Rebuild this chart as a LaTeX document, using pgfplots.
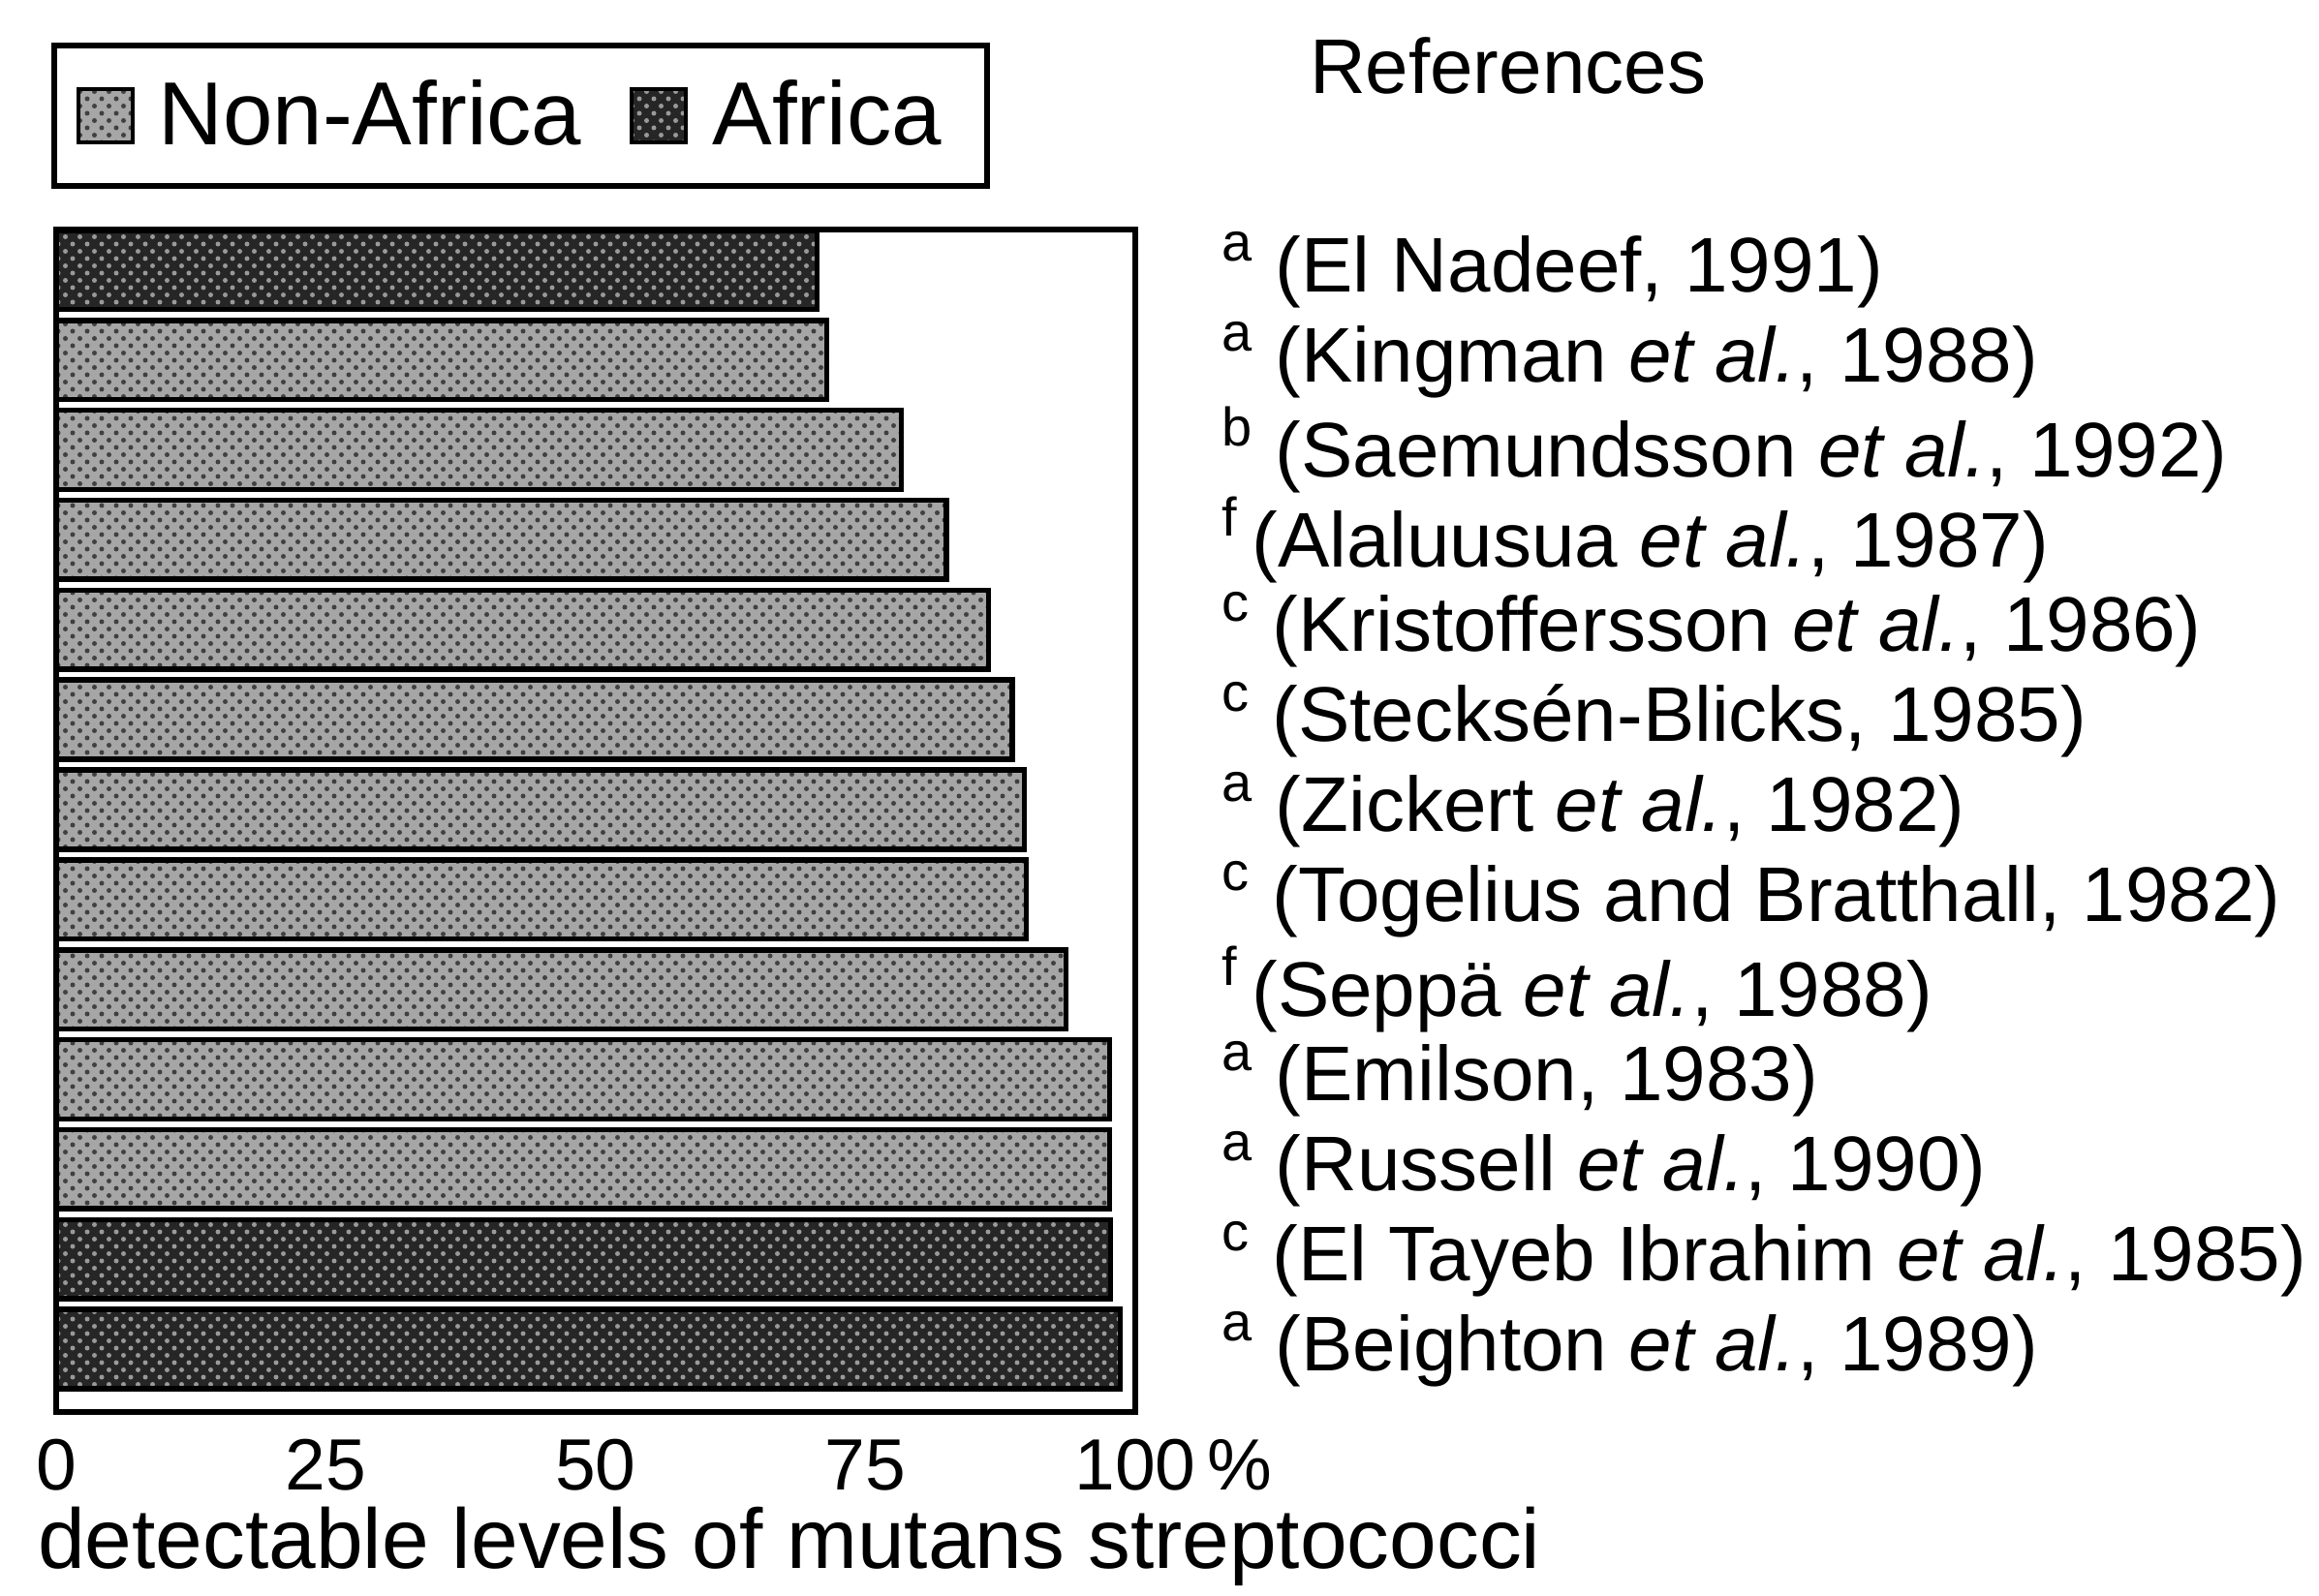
\documentclass[border=0pt]{standalone}
\usepackage{pgfplots}
\pgfplotsset{compat=1.18}
\usepackage{fontspec}
\setmainfont{Liberation Sans}
\usetikzlibrary{patterns}

\begin{document}
\begin{tikzpicture}
\path[use as bounding box] (-11.6pt,-37.8pt) rectangle (467.2pt,291.6pt);
\begin{axis}[
  at={(0,0)}, anchor=south west,
  scale only axis, width=222.8pt, height=244.2pt,
  xbar, bar width=0.88,
  xmin=0, xmax=100, ymin=0.55, ymax=13.7, y dir=reverse,
  axis line style={line width=1.2pt},
  major tick length=0pt,
  xtick={0,25,50,75,100},
  xticklabels={0,25,50,75,100\rlap{\,\%}},
  xticklabel style={font=\fontsize{15}{18}\selectfont, inner sep=0pt, yshift=-5.5pt},
  ytick={1,2,3,4,5,6,7,8,9,10,11,12,13},
  yticklabels={
    {\textsuperscript{a} (El Nadeef, 1991)},
    {\textsuperscript{a} (Kingman \textit{et al.}, 1988)},
    {\textsuperscript{b} (Saemundsson \textit{et al.}, 1992)},
    {\textsuperscript{f}\,(Alaluusua \textit{et al.}, 1987)},
    {\textsuperscript{c} (Kristoffersson \textit{et al.}, 1986)},
    {\textsuperscript{c} (Stecksén-Blicks, 1985)},
    {\textsuperscript{a} (Zickert \textit{et al.}, 1982)},
    {\textsuperscript{c} (Togelius and Bratthall, 1982)},
    {\textsuperscript{f}\,(Seppä \textit{et al.}, 1988)},
    {\textsuperscript{a} (Emilson, 1983)},
    {\textsuperscript{a} (Russell \textit{et al.}, 1990)},
    {\textsuperscript{c} (El Tayeb Ibrahim \textit{et al.}, 1985)},
    {\textsuperscript{a} (Beighton \textit{et al.}, 1989)}},
  yticklabel pos=right,
  yticklabel style={anchor=west, inner sep=0pt, xshift=17.6pt, font=\fontsize{16}{19}\selectfont},
  legend style={at={(axis description cs:0,1)}, anchor=south west, xshift=-1pt, yshift=8.4pt,
    legend columns=2, font=\fontsize{18.5}{22}\selectfont, draw=black, line width=1.2pt,
    inner xsep=4.5pt, inner ysep=5pt,
    nodes={inner xsep=5pt},
    /tikz/every even column/.append style={column sep=5pt}},
  legend image code/.code={\draw[#1, line width=0.8pt] (0pt,-5.5pt) rectangle (11.2pt,5.5pt);},
  clip=false,
]
\addplot[bar shift=0pt, draw=black, line width=1.1pt, fill=black!35,
  postaction={pattern=crosshatch dots, pattern color=black!75}]
  coordinates {(71.4,2) (78.3,3) (82.5,4) (86.4,5) (88.6,6) (89.7,7) (89.9,8) (93.6,9) (97.6,10) (97.6,11)};
\addlegendentry{Non-Africa}
\addplot[bar shift=0pt, draw=black, line width=1.1pt, fill=black!85,
  postaction={pattern=crosshatch dots, pattern color=black!40}]
  coordinates {(70.5,1) (97.7,12) (98.6,13)};
\addlegendentry{Africa}
\end{axis}
\node[anchor=base west, font=\fontsize{16}{19}\selectfont, inner sep=0pt] at (258.6pt,272.2pt) {References};
\node[anchor=base west, font=\fontsize{17.5}{21}\selectfont, inner sep=0pt] at (-4pt,-32.3pt) {detectable levels of mutans streptococci};
\end{tikzpicture}
\end{document}
